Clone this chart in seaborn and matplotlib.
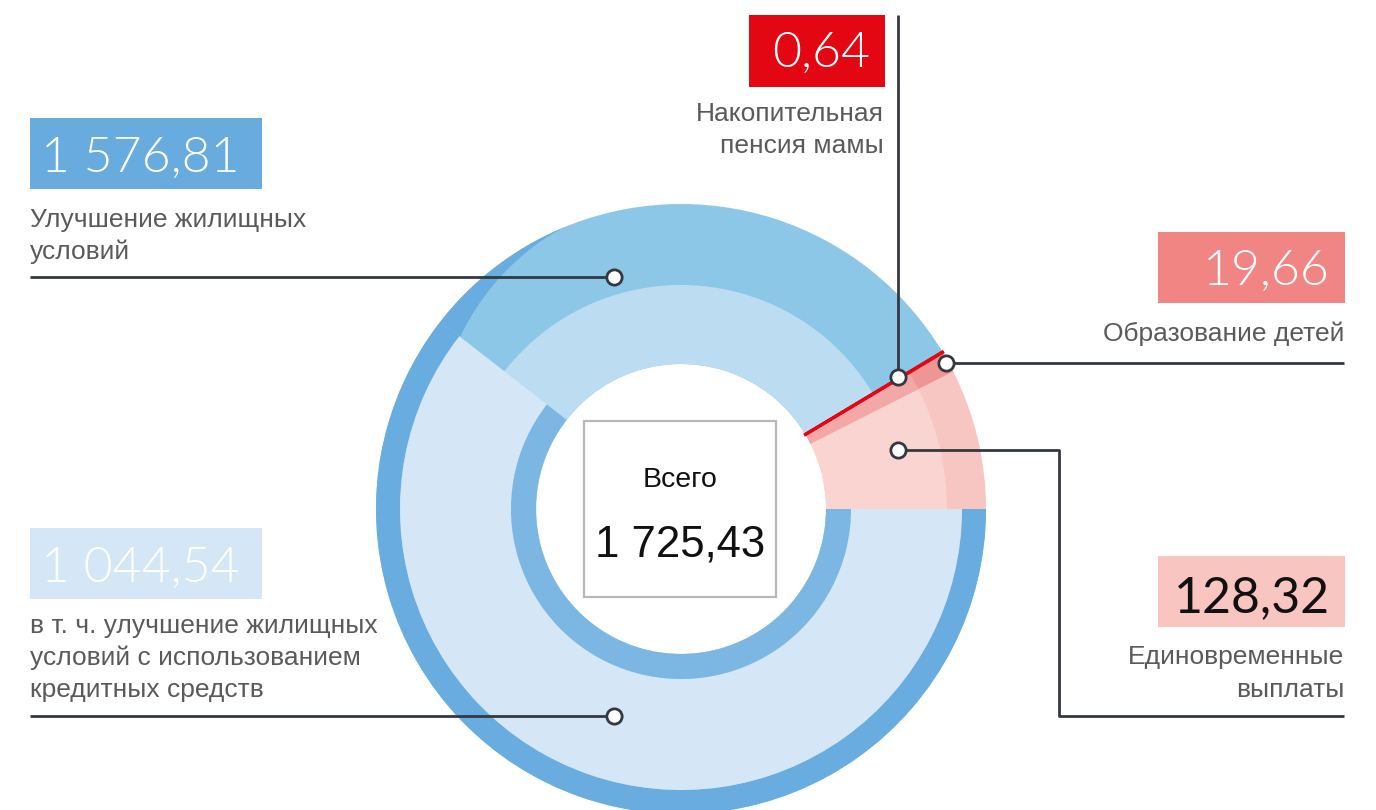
import matplotlib
matplotlib.use("Agg")
import numpy as np
import matplotlib.pyplot as plt
from matplotlib.patches import Rectangle, Polygon
import seaborn as sns

# ---- data ----
categories = ["Единовременные выплаты", "Образование детей",
              "Накопительная пенсия мамы", "Улучшение жилищных условий"]
values = [128.32, 19.66, 0.64, 1576.81]
credit_part = 1044.54          # в т. ч. с использованием кредитных средств
total = 1725.43
value_labels = ["128,32", "19,66", "0,64", "1 576,81"]
credit_label = "1 044,54"
total_label = "1 725,43"

sns.set_theme(style="white")
plt.rcParams['font.family'] = ['Liberation Sans', 'DejaVu Sans']

W, H = 1376, 810
fig = plt.figure(figsize=(W / 100, H / 100), dpi=100)
ax = fig.add_axes([0, 0, 1, 1])


def Y(y):
    return H - y


cx, cy = 681, Y(509)
R_OUT, R_HOLE = 305, 145
ring = R_OUT - R_HOLE

split_vals = values[:3] + [values[3] - credit_part, credit_part]


def layer(vals, radius, width, idx, color, z=2):
    ws, _ = ax.pie(vals, radius=radius, center=(cx, cy), startangle=0,
                   counterclock=True, colors=["none"] * len(vals),
                   wedgeprops=dict(width=width, linewidth=0))
    for i, w in enumerate(ws):
        if i == idx:
            w.set_facecolor(color)
            w.set_zorder(z)
        else:
            w.set_visible(False)
    return ws


# main ring
layer(values, R_OUT, ring, 0, "#f7c6c2", z=1)
layer(values, R_OUT, ring, 1, "#ef9694", z=1)
layer(values, R_OUT, ring, 3, "#8dc7e8", z=1)
# lighter inner bands (translucent overlay look)
layer(values, 266, 266 - R_HOLE, 0, "#f9d4d0", z=1.5)
layer(values, 266, 266 - R_HOLE, 1, "#f3a8a7", z=1.5)
layer(values, 224, 224 - R_HOLE, 3, "#bcdcf1", z=1.5)

# credit part of the housing slice
layer(split_vals, R_OUT, R_OUT - 281, 4, "#69acdf", z=2)
layer(split_vals, 281, 111, 4, "#d5e6f7", z=2)
layer(split_vals, 170, 25, 4, "#7bb7e2", z=2)

# dark tapering crescent continuing the rim past the credit cut
theta_cut = 360.0 * sum(split_vals[:4]) / sum(split_vals)
th = np.linspace(112, theta_cut, 60)
r_in = R_OUT - 25 * ((th - 112) / (theta_cut - 112)) ** 1.3
outer = np.column_stack([cx + R_OUT * np.cos(np.radians(th)),
                         cy + R_OUT * np.sin(np.radians(th))])
inner = np.column_stack([cx + r_in * np.cos(np.radians(th)),
                         cy + r_in * np.sin(np.radians(th))])
ax.add_patch(Polygon(np.vstack([outer, inner[::-1]]), closed=True,
                     fc="#69acdf", lw=0, zorder=1.6))

# pension: a thin red line
pw = layer(values, R_OUT, ring, 2, "#e30613", z=5)
pw[2].set_edgecolor("#e30613")
pw[2].set_linewidth(2.2)

# centre box
ax.add_patch(Rectangle((584, Y(597)), 192, 176, fc="white", ec="#b8b8b8",
                       lw=1.6, zorder=6))
ax.text(680, Y(487), "Всего", ha="center", va="baseline", fontsize=20.5,
        color="#111111", zorder=7)
ax.text(680, Y(557), total_label, ha="center", va="baseline", fontsize=31.5,
        color="#111111", zorder=7)

LC = "#343840"
GREY = "#5a5a5a"
VALFONT = ['Lato', 'DejaVu Sans']
LAB = 19


def leader(xs, ys, mx, my):
    ax.plot(xs, [Y(v) for v in ys], color=LC, lw=2.0, zorder=8,
            solid_capstyle="butt")
    ax.plot([mx], [Y(my)], "o", ms=11, mfc="white", mec=LC, mew=2.0,
            zorder=9)


def lines(x, y0, step, texts, ha):
    for i, t in enumerate(texts):
        ax.text(x, Y(y0 + i * step), t, ha=ha, va="baseline", fontsize=LAB,
                color=GREY)


def value_box(x0, y0, w, h, fc, text, tx, ty, ha, color="white",
              weight=300):
    ax.add_patch(Rectangle((x0, Y(y0 + h)), w, h, fc=fc, lw=0, zorder=3))
    ax.text(tx, Y(ty), text, ha=ha, va="baseline", fontsize=36,
            color=color, family=VALFONT, fontweight=weight, zorder=4)


# ---- left: housing ----
value_box(30, 118, 232, 71, "#68acdf", value_labels[3], 41, 172, "left")
lines(30, 227, 32, ["Улучшение жилищных", "условий"], "left")
leader([30, 614], [277, 277], 614, 277)

# ---- left: credit ----
value_box(30, 528, 232, 71, "#d5e6f7", credit_label, 41, 582, "left")
lines(30, 633, 32, ["в т. ч. улучшение жилищных",
                    "условий с использованием", "кредитных средств"], "left")
leader([30, 614], [716, 716], 614, 716)

# ---- top: pension ----
value_box(749, 15, 136, 72, "#e30613", value_labels[2], 870, 67, "right")
lines(884, 121, 32, ["Накопительная", "пенсия мамы"], "right")
leader([898, 898], [15, 377], 898, 377)

# ---- right: education ----
value_box(1158, 232, 187, 71, "#f08583", value_labels[1], 1330, 285, "right")
lines(1344, 341, 32, ["Образование детей"], "right")
leader([946, 1344], [363, 363], 946, 363)

# ---- right: lump sum ----
value_box(1158, 556, 187, 71, "#f9c5c1", value_labels[0], 1330, 612, "right",
          color="#111111", weight="normal")
lines(1344, 664, 33, ["Единовременные", "выплаты"], "right")
leader([898, 1059, 1059, 1344], [450, 450, 716, 716], 898, 450)

ax.set_xlim(0, W)
ax.set_ylim(0, H)
ax.set_aspect("equal")
ax.axis("off")
fig.savefig("out.png", dpi=100, facecolor="white")
